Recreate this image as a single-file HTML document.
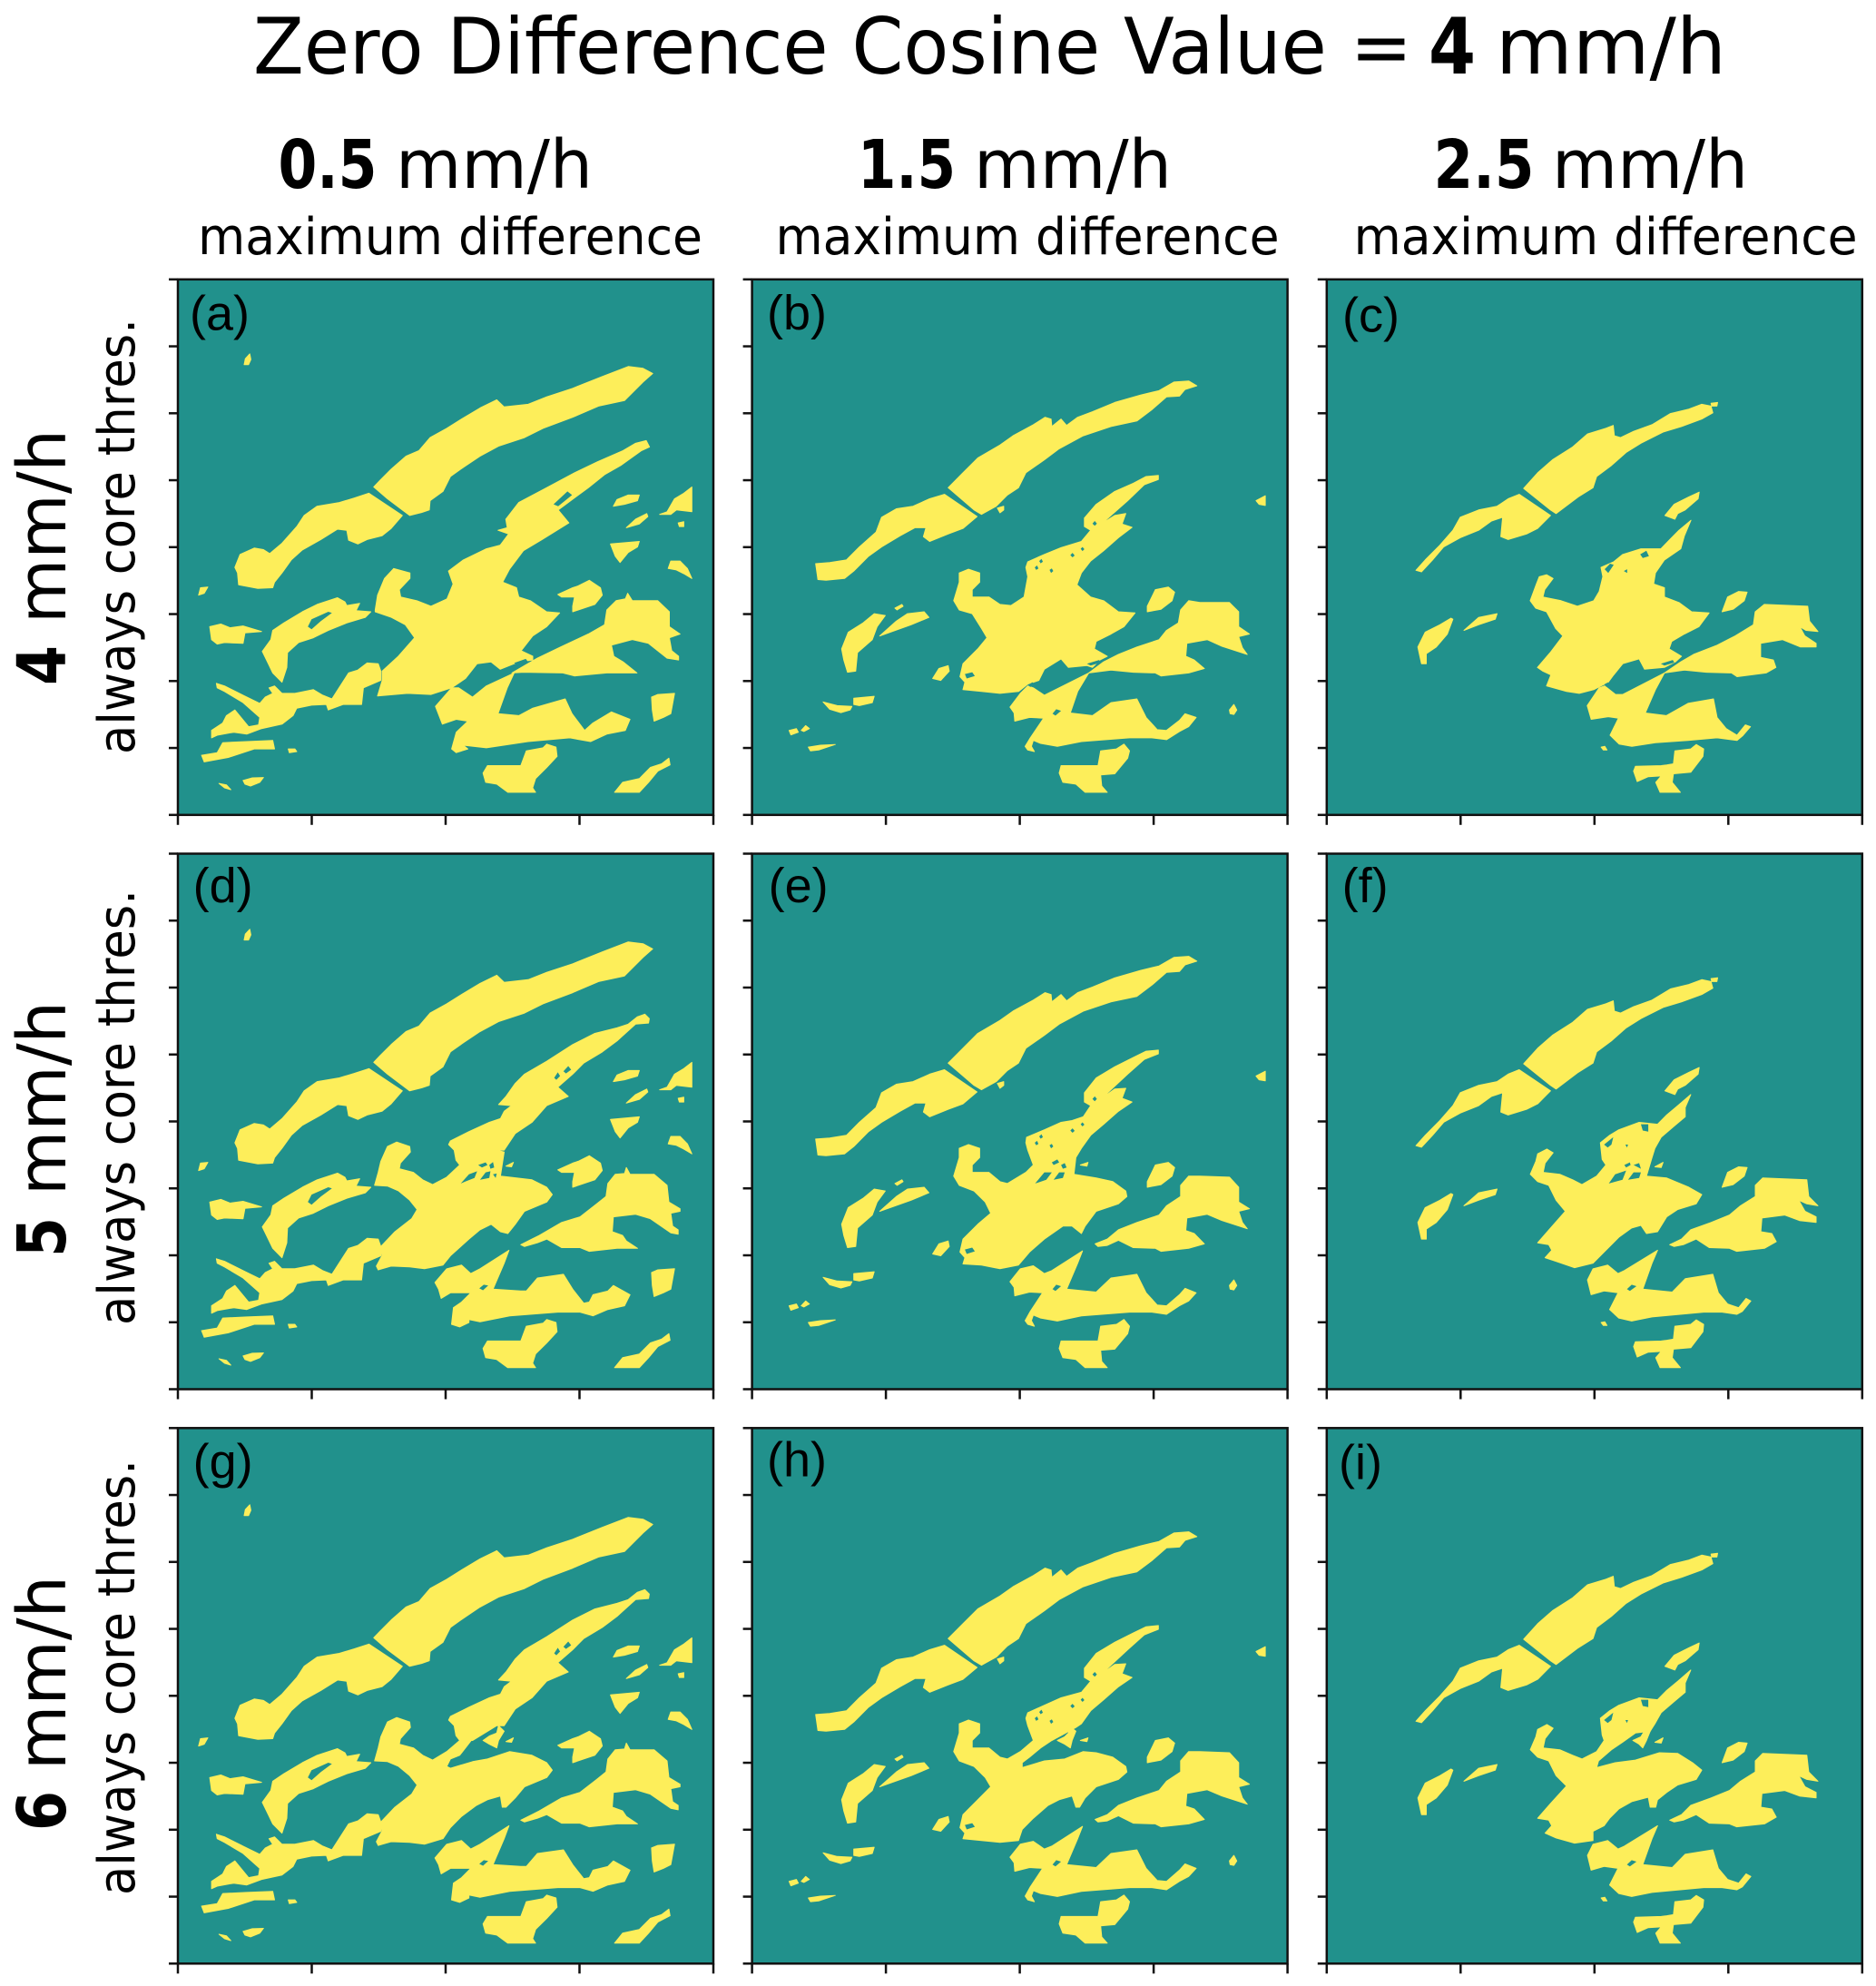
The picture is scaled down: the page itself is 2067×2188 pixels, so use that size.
<!DOCTYPE html>
<html lang="en">
<head>
<meta charset="utf-8">
<title>Zero Difference Cosine Value = 4 mm/h</title>
<style>
html,body{margin:0;padding:0;background:#fff;}
svg{display:block;}
.t{font-family:"DejaVu Sans","Liberation Sans",sans-serif;fill:#000;}
.b{font-weight:bold;}
.p{font-family:"Liberation Sans",sans-serif;font-size:54px;fill:#000;}
</style>
</head>
<body>
<svg id="chart" xmlns="http://www.w3.org/2000/svg" width="2067" height="2188" viewBox="0 0 2067 2188">
<rect x="0" y="0" width="2067" height="2188" fill="#ffffff"/>
<g>
<text class="t" x="279" y="81" font-size="86" textLength="1277" lengthAdjust="spacingAndGlyphs">Zero Difference Cosine Value =</text>
<text class="t b" x="1574" y="81" font-size="86" textLength="52" lengthAdjust="spacingAndGlyphs">4</text>
<text class="t" x="1648" y="81" font-size="86" textLength="254" lengthAdjust="spacingAndGlyphs">mm/h</text>
</g>
<g>
<text class="t b" x="306.5" y="207" font-size="74" textLength="109" lengthAdjust="spacingAndGlyphs">0.5</text>
<text class="t" x="436" y="207" font-size="74" textLength="217" lengthAdjust="spacingAndGlyphs">mm/h</text>
<text class="t" x="218" y="280" font-size="56" textLength="556" lengthAdjust="spacingAndGlyphs">maximum difference</text>
<text class="t b" x="945" y="207" font-size="74" textLength="108" lengthAdjust="spacingAndGlyphs">1.5</text>
<text class="t" x="1073" y="207" font-size="74" textLength="218" lengthAdjust="spacingAndGlyphs">mm/h</text>
<text class="t" x="854.5" y="280" font-size="56" textLength="555" lengthAdjust="spacingAndGlyphs">maximum difference</text>
<text class="t b" x="1579.5" y="207" font-size="74" textLength="111" lengthAdjust="spacingAndGlyphs">2.5</text>
<text class="t" x="1710" y="207" font-size="74" textLength="216" lengthAdjust="spacingAndGlyphs">mm/h</text>
<text class="t" x="1491.6" y="280" font-size="56" textLength="555" lengthAdjust="spacingAndGlyphs">maximum difference</text>
</g>
<g>
<text class="t b" transform="rotate(-90 72 755)" x="72" y="755" font-size="74" textLength="44" lengthAdjust="spacingAndGlyphs">4</text>
<text class="t" transform="rotate(-90 72 687)" x="72" y="687" font-size="74" textLength="214" lengthAdjust="spacingAndGlyphs">mm/h</text>
<text class="t" transform="rotate(-90 148 831)" x="148" y="831" font-size="56" textLength="480" lengthAdjust="spacingAndGlyphs">always core thres.</text>
<text class="t b" transform="rotate(-90 72 1385)" x="72" y="1385" font-size="74" textLength="44" lengthAdjust="spacingAndGlyphs">5</text>
<text class="t" transform="rotate(-90 72 1317)" x="72" y="1317" font-size="74" textLength="214" lengthAdjust="spacingAndGlyphs">mm/h</text>
<text class="t" transform="rotate(-90 148 1460)" x="148" y="1460" font-size="56" textLength="480" lengthAdjust="spacingAndGlyphs">always core thres.</text>
<text class="t b" transform="rotate(-90 72 2017)" x="72" y="2017" font-size="74" textLength="44" lengthAdjust="spacingAndGlyphs">6</text>
<text class="t" transform="rotate(-90 72 1950)" x="72" y="1950" font-size="74" textLength="214" lengthAdjust="spacingAndGlyphs">mm/h</text>
<text class="t" transform="rotate(-90 148 2088)" x="148" y="2088" font-size="56" textLength="480" lengthAdjust="spacingAndGlyphs">always core thres.</text>
</g>
<g id="panels"></g>
</svg>
<script>
/* Mask outlines, in each column's grid units. */
const col1Common = [
[[243,298],[246,282],[258,269],[261,284],[255,298]],
[[593,628],[610,610],[640,580],[680,545],[715,530],[745,495],[790,470],[830,445],[880,415],[925,393],[945,412],[1010,405],[1060,385],[1130,362],[1210,330],[1280,303],[1320,308],[1346,322],[1320,345],[1270,395],[1200,410],[1130,440],[1050,470],[1000,495],[930,518],[880,545],[835,575],[800,600],[780,640],[745,665],[743,690],[722,697],[690,705],[670,690],[630,660]],
[[580,645],[670,705],[640,740],[615,760],[575,770],[550,782],[525,772],[520,745],[495,742],[450,770],[400,798],[370,825],[345,860],[325,885],[320,900],[280,902],[228,892],[225,860],[218,845],[232,810],[270,793],[295,797],[312,808],[345,780],[385,735],[405,705],[440,680],[500,670],[540,658]],
[[1240,680],[1250,662],[1280,650],[1310,650],[1305,665],[1270,675]],
[[1275,738],[1300,715],[1330,700],[1333,708],[1310,728]],
[[1365,702],[1385,695],[1405,660],[1430,645],[1452,628],[1452,695],[1410,690],[1395,702]],
[[1415,725],[1430,722],[1430,735],[1418,735]],
[[1232,782],[1310,775],[1305,790],[1280,805],[1258,832],[1245,815]],
[[1388,848],[1395,828],[1420,828],[1440,848],[1452,875],[1430,862],[1410,852]],
[[1090,918],[1130,900],[1145,895],[1175,880],[1205,900],[1210,920],[1190,945],[1130,965],[1130,950],[1135,925],[1100,925]],
[[120,920],[125,900],[145,898],[135,915]],
[[150,1005],[180,998],[205,1008],[240,1003],[290,1018],[245,1022],[240,1050],[190,1048],[170,1052],[155,1040]],
[[292,1072],[315,1040],[320,1015],[350,995],[400,965],[440,945],[495,927],[515,938],[520,948],[555,942],[545,962],[585,965],[570,980],[520,995],[470,1015],[430,1035],[390,1048],[360,1075],[358,1115],[345,1155],[320,1130],[308,1105]],
[[168,1158],[190,1165],[240,1190],[285,1212],[300,1195],[320,1185],[310,1170],[325,1165],[345,1185],[380,1185],[430,1175],[455,1190],[480,1200],[525,1130],[550,1122],[575,1103],[605,1105],[612,1125],[612,1150],[565,1170],[560,1215],[510,1215],[470,1230],[465,1215],[425,1217],[385,1225],[375,1245],[345,1268],[290,1280],[250,1295],[215,1290],[170,1298],[155,1305],[155,1285],[185,1265],[195,1245],[218,1230],[255,1275],[282,1270],[285,1250],[240,1210],[190,1180],[170,1170]],
[[128,1352],[170,1345],[185,1318],[250,1315],[320,1312],[325,1335],[270,1335],[200,1358],[135,1370]],
[[362,1335],[380,1335],[385,1342],[365,1345]],
[[240,1420],[265,1413],[295,1412],[285,1425],[260,1435],[245,1430]],
[[175,1428],[195,1432],[207,1445],[190,1440]],
[[1343,1195],[1360,1188],[1405,1185],[1395,1240],[1375,1250],[1350,1260],[1345,1230]],
[[888,1400],[900,1380],[990,1380],[1005,1340],[1050,1332],[1060,1322],[1085,1330],[1088,1355],[1060,1385],[1030,1415],[1022,1440],[1030,1452],[955,1452],[925,1430],[895,1425]],
[[1243,1452],[1265,1425],[1310,1415],[1340,1385],[1370,1375],[1390,1360],[1393,1378],[1360,1395],[1335,1425],[1310,1452]]
];
const col1CommonHoles = [
[[415,1005],[425,985],[470,965],[480,968],[450,990],[425,1012]]
];
const col1Rows23 = [
[[990,1120],[1020,1105],[1040,1095],[1100,1060],[1150,1045],[1195,1010],[1220,990],[1225,955],[1245,930],[1270,928],[1275,912],[1285,930],[1350,930],[1385,960],[1390,1005],[1420,1023],[1420,1030],[1395,1035],[1400,1070],[1415,1080],[1415,1092],[1395,1088],[1340,1050],[1300,1038],[1240,1045],[1237,1085],[1265,1095],[1275,1110],[1305,1130],[1250,1130],[1175,1138],[1150,1128],[1100,1128],[1060,1105],[1035,1115],[1000,1125]],
[[758,1222],[790,1185],[830,1175],[855,1198],[880,1185],[958,1135],[945,1170],[915,1240],[990,1245],[1005,1245],[1035,1210],[1105,1200],[1130,1240],[1160,1278],[1175,1275],[1185,1255],[1225,1245],[1240,1230],[1285,1255],[1270,1285],[1225,1295],[1185,1312],[1150,1302],[1090,1302],[960,1312],[880,1328],[850,1322],[850,1330],[825,1342],[803,1335],[808,1290],[830,1275],[855,1250],[800,1250],[775,1265],[768,1240]],
[[825,905],[815,892],[810,865],[795,850],[800,840],[850,815],[905,790],[935,780],[945,760],[965,745],[930,742],[950,720],[975,685],[1000,660],[1060,625],[1130,580],[1190,550],[1250,535],[1280,525],[1305,505],[1325,498],[1337,510],[1335,522],[1300,525],[1250,570],[1210,600],[1160,630],[1130,660],[1090,695],[1118,720],[1060,745],[1020,790],[975,820],[945,865],[925,865],[860,905]],
[[950,908],[970,898],[965,910]]
];
const col1Rows23Holes = [
[[878,1238],[890,1228],[902,1230],[888,1243]],
[[1080,670],[1090,655],[1096,665],[1086,675]],
[[1105,652],[1118,638],[1126,648],[1112,658]]
];
const panelACoreRings = [
[[810,960],[815,920],[830,875],[850,848],[885,860],[885,875],[862,905],[865,925],[900,935],[930,950],[965,930],[978,890],[968,855],[1000,825],[1050,795],[1080,785],[1098,755],[1075,745],[1095,738],[1092,715],[1120,670],[1180,630],[1240,590],[1290,560],[1345,530],[1372,510],[1395,503],[1402,520],[1385,530],[1340,570],[1305,595],[1270,630],[1205,690],[1228,725],[1170,770],[1130,800],[1100,850],[1085,885],[1115,900],[1120,925],[1145,935],[1180,965],[1208,968],[1180,1005],[1150,1030],[1125,1070],[1150,1085],[1150,1095],[1120,1100],[1080,1120],[1060,1100],[1030,1105],[1005,1145],[975,1170],[930,1188],[880,1185],[815,1192],[825,1150],[825,1125],[860,1085],[895,1035],[875,1000],[845,980],[810,965]],
[[1105,1130],[1160,1090],[1210,1060],[1270,1025],[1305,1000],[1310,960],[1330,935],[1350,930],[1355,915],[1365,935],[1420,935],[1445,965],[1445,1005],[1468,1025],[1445,1035],[1450,1070],[1465,1085],[1465,1095],[1440,1090],[1400,1050],[1365,1040],[1320,1055],[1325,1085],[1345,1100],[1375,1130],[1310,1130],[1240,1138],[1215,1130],[1130,1128]],
[[940,1220],[975,1170],[990,1170],[1020,1195],[1050,1165],[1110,1130],[1095,1170],[1075,1240],[1120,1245],[1150,1225],[1220,1200],[1235,1240],[1262,1285],[1280,1265],[1320,1235],[1360,1255],[1350,1285],[1310,1295],[1275,1315],[1230,1305],[1140,1315],[1050,1332],[1000,1325],[1010,1335],[985,1345],[975,1335],[985,1290],[1010,1260],[985,1255],[955,1268]]
];
const panelACoreHoles = [
[[1195,675],[1225,640],[1235,650],[1205,680]],
[[1110,1103],[1135,1092],[1140,1100],[1118,1110]]
];
const panelDCoreRings = [
[[595,960],[605,925],[612,895],[630,855],[655,843],[690,855],[692,870],[665,900],[662,915],[700,925],[725,945],[752,958],[790,938],[825,905],[880,880],[925,865],[945,870],[935,935],[960,938],[1020,945],[1060,965],[1075,985],[1060,1005],[1000,1030],[975,1065],[955,1090],[935,1085],[910,1065],[880,1080],[850,1105],[800,1150],[780,1175],[730,1185],[690,1180],[640,1178],[605,1188],[600,1178],[615,1150],[612,1125],[650,1085],[695,1050],[710,1025],[690,1000],[660,975],[630,962]]
];
const panelDCoreHoles = [
[[828,955],[850,930],[872,922],[865,940],[840,950]],
[[880,945],[895,925],[908,922],[905,940]],
[[875,905],[895,898],[900,905],[885,912]],
[[905,905],[915,897],[918,912],[908,915]],
[[915,930],[925,928],[922,940]]
];
const panelGCoreRings = [
[[595,960],[605,925],[612,895],[630,855],[655,843],[690,855],[692,870],[665,900],[662,915],[700,925],[725,945],[752,958],[790,935],[825,905],[860,900],[825,945],[800,955],[790,975],[800,980],[860,962],[900,955],[960,935],[1020,945],[1060,965],[1075,985],[1060,1005],[1000,1030],[975,1060],[950,1085],[940,1085],[935,1055],[900,1065],[870,1080],[830,1110],[800,1140],[780,1170],[730,1185],[690,1180],[640,1178],[605,1188],[600,1178],[615,1150],[612,1125],[650,1085],[695,1050],[710,1025],[690,1000],[660,975],[630,962]],
[[888,905],[905,893],[925,885],[930,865],[945,880],[930,905],[925,925],[905,915]]
];

const col2Common = [
[[600,630],[640,590],[680,550],[740,515],[775,490],[830,460],[862,440],[878,445],[880,465],[905,445],[920,462],[950,440],[990,425],[1050,400],[1120,380],[1170,368],[1210,345],[1250,342],[1272,355],[1240,365],[1225,383],[1190,385],[1150,420],[1110,450],[1040,465],[965,490],[900,525],[860,555],[810,590],[790,630],[760,650],[730,680],[690,702],[670,690]],
[[733,685],[750,680],[750,690],[740,698]],
[[590,648],[678,708],[640,740],[600,755],[550,775],[533,762],[540,738],[510,738],[470,760],[420,790],[385,815],[345,855],[320,875],[270,880],[248,878],[242,835],[280,832],[325,825],[360,790],[405,750],[420,710],[460,687],[505,680],[550,660]],
[[1138,965],[1138,950],[1160,905],[1195,898],[1212,912],[1205,935],[1175,958]],
[[1432,665],[1457,652],[1457,678],[1440,675]],
[[900,1400],[905,1380],[1005,1380],[1012,1340],[1055,1335],[1075,1322],[1090,1340],[1085,1360],[1050,1402],[1012,1405],[1015,1435],[1030,1452],[970,1452],[945,1430],[910,1425]],
[[1360,1230],[1372,1215],[1380,1230],[1372,1242],[1362,1240]],
[[312,1065],[330,1020],[370,995],[400,970],[430,975],[408,1005],[395,1040],[355,1075],[350,1125],[328,1128],[318,1095]],
[[415,1030],[460,990],[490,970],[535,965],[548,980],[500,1000]],
[[456,955],[475,945],[478,950],[462,960]],
[[558,1145],[575,1118],[600,1110],[603,1125],[580,1150]],
[[262,1208],[300,1218],[340,1220],[335,1230],[310,1237],[280,1228]],
[[345,1198],[400,1193],[395,1210],[360,1218],[345,1215]],
[[170,1285],[190,1280],[195,1290],[175,1297]],
[[203,1285],[215,1272],[225,1280],[210,1288]],
[[222,1330],[255,1325],[295,1323],[250,1338],[228,1340]]
];
const col2CommonHoles = [
[[645,1133],[665,1128],[672,1138],[650,1145]],
[[882,1240],[892,1228],[905,1232],[890,1245]],
[[846,828],[852,822],[856,830],[850,834]],
[[834,845],[840,840],[844,848],[838,852]],
[[874,852],[880,848],[884,855],[878,860]],
[[930,812],[936,806],[942,813],[936,818]],
[[958,795],[963,790],[968,796],[963,801]],
[[990,727],[996,720],[1002,727],[996,733]]
];
const col2Rows23 = [
[[997,1118],[1030,1105],[1060,1080],[1110,1060],[1170,1040],[1190,1015],[1228,990],[1228,960],[1250,935],[1280,935],[1360,938],[1385,965],[1385,1005],[1414,1023],[1385,1030],[1395,1060],[1408,1077],[1340,1055],[1300,1038],[1245,1048],[1242,1082],[1265,1090],[1292,1118],[1250,1130],[1175,1138],[1160,1130],[1100,1128],[1060,1108],[1030,1122],[1005,1125]],
[[767,1220],[795,1185],[830,1177],[860,1198],[880,1190],[963,1137],[950,1170],[920,1240],[1000,1248],[1040,1210],[1110,1200],[1135,1250],[1165,1283],[1190,1285],[1225,1255],[1240,1238],[1270,1250],[1250,1272],[1225,1285],[1190,1308],[1150,1302],[1090,1302],[960,1312],[895,1326],[850,1318],[830,1310],[825,1325],[833,1340],[815,1335],[808,1325],[822,1300],[855,1250],[820,1248],[780,1258],[778,1235]],
[[957,905],[978,898],[975,908]]
];
const panelBCoreRings = [
[[810,845],[815,830],[860,810],[905,792],[960,775],[985,745],[968,735],[968,712],[1000,675],[1050,640],[1100,618],[1135,600],[1168,597],[1168,608],[1130,622],[1085,665],[1015,727],[1050,705],[1080,700],[1070,728],[1097,737],[1060,765],[1020,800],[985,828],[960,860],[948,892],[985,925],[1020,935],[1060,965],[1105,968],[1075,1005],[1040,1025],[1000,1045],[995,1065],[1030,1085],[1010,1095],[990,1115],[975,1110],[925,1115],[905,1092],[860,1120],[845,1150],[815,1160],[790,1180],[740,1185],[690,1180],[640,1175],[645,1155],[632,1140],[640,1105],[680,1065],[705,1035],[690,1010],[665,970],[630,960],[615,935],[630,885],[630,860],[655,850],[685,860],[685,885],[665,905],[665,925],[710,925],[740,945],[770,948],[805,925],[815,870]],
[[980,1130],[1020,1100],[1060,1080],[1110,1060],[1170,1040],[1190,1015],[1222,995],[1228,960],[1250,935],[1280,940],[1360,940],[1385,965],[1385,1005],[1414,1025],[1385,1032],[1395,1062],[1408,1080],[1340,1058],[1300,1040],[1245,1050],[1242,1085],[1265,1095],[1292,1118],[1250,1130],[1175,1138],[1160,1130],[1100,1128],[1040,1122]],
[[767,1222],[795,1185],[815,1165],[830,1170],[860,1190],[880,1180],[980,1130],[950,1180],[930,1238],[990,1245],[1040,1210],[1110,1200],[1135,1250],[1165,1283],[1190,1285],[1225,1258],[1240,1240],[1270,1250],[1250,1275],[1225,1288],[1190,1310],[1150,1305],[1090,1305],[960,1315],[895,1328],[850,1320],[830,1312],[825,1328],[833,1342],[815,1338],[808,1328],[822,1305],[858,1252],[820,1250],[780,1260],[778,1238]]
];
const panelBCoreHoles = [
[[975,1105],[1008,1095],[1012,1102],[985,1110]],
[[815,1162],[828,1155],[832,1162],[822,1168]]
];
const panelECoreRings = [
[[810,845],[812,830],[860,810],[905,790],[935,785],[965,775],[985,745],[968,735],[968,710],[1000,670],[1050,640],[1100,615],[1135,598],[1168,595],[1168,605],[1130,620],[1085,660],[1015,725],[1050,700],[1080,698],[1070,725],[1097,735],[1060,760],[1020,795],[985,825],[960,860],[945,885],[940,930],[1000,940],[1045,950],[1080,975],[1083,990],[1060,1010],[1000,1030],[970,1070],[960,1090],[935,1070],[910,1070],[860,1105],[820,1140],[790,1175],[740,1185],[690,1175],[640,1172],[645,1155],[632,1140],[640,1105],[680,1065],[715,1035],[700,1005],[670,975],[630,960],[615,935],[630,885],[630,860],[655,850],[685,860],[685,885],[665,905],[665,925],[710,925],[740,950],[760,955],[810,925],[830,905],[815,865]]
];
const panelECoreHoles = [
[[835,955],[860,925],[880,925],[865,945]],
[[885,945],[900,925],[915,925],[910,940]],
[[905,905],[915,900],[920,912],[910,915]],
[[880,898],[895,890],[900,898],[885,905]]
];
const panelHCoreRings = [
[[810,845],[815,830],[860,810],[905,790],[960,775],[985,745],[968,735],[968,710],[1000,670],[1050,640],[1100,615],[1135,598],[1168,595],[1168,605],[1130,620],[1085,660],[1015,725],[1050,700],[1080,698],[1070,725],[1097,735],[1060,760],[1020,795],[985,825],[960,860],[945,870],[880,905],[850,925],[820,950],[800,965],[800,978],[860,960],[915,955],[965,935],[1000,938],[1045,950],[1080,975],[1083,990],[1060,1010],[1000,1030],[970,1060],[955,1085],[945,1085],[935,1055],[900,1065],[870,1080],[830,1115],[800,1145],[790,1175],[740,1180],[690,1175],[640,1170],[645,1155],[632,1140],[640,1105],[680,1065],[715,1030],[700,1005],[670,975],[630,960],[615,935],[630,885],[630,860],[655,850],[685,860],[685,885],[665,905],[665,925],[710,925],[740,950],[760,955],[795,935],[830,905],[815,865]],
[[895,905],[915,895],[925,885],[930,868],[945,880],[935,905],[930,925],[915,915]]
];

const col3Common = [
[[612,632],[650,590],[690,555],[745,520],[785,485],[835,470],[855,462],[858,490],[875,495],[910,478],[960,460],[1010,430],[1060,418],[1095,405],[1120,410],[1125,428],[1095,445],[1040,465],[990,480],[930,510],[890,535],[850,570],[810,600],[800,630],[760,655],[700,700],[685,690]],
[[1120,402],[1138,400],[1136,410],[1122,410]],
[[600,648],[685,705],[650,740],[620,755],[570,770],[550,762],[555,710],[525,720],[490,745],[440,765],[395,790],[365,825],[335,857],[320,853],[345,825],[385,785],[420,745],[440,710],[490,690],[540,680],[570,660]],
[[995,705],[1020,675],[1060,655],[1088,642],[1085,660],[1050,690],[1030,700],[1022,715]],
[[1150,965],[1165,925],[1195,910],[1218,912],[1210,935],[1180,958]],
[[822,1330],[832,1328],[838,1338],[828,1338]],
[[910,1395],[915,1382],[985,1380],[1000,1378],[1018,1375],[1022,1340],[1065,1335],[1080,1323],[1100,1335],[1098,1355],[1065,1398],[1018,1402],[1015,1425],[1037,1452],[982,1452],[970,1425],[985,1408],[950,1410],[920,1423]],
[[325,1060],[345,1020],[385,1000],[415,982],[420,985],[405,1025],[375,1060],[348,1078],[348,1105],[335,1105]],
[[450,1015],[490,980],[540,970],[535,985],[490,1000]]
];
const col3Rows23 = [
[[1008,1120],[1040,1105],[1065,1080],[1120,1060],[1170,1040],[1200,1015],[1240,990],[1240,960],[1260,940],[1380,945],[1385,990],[1410,1015],[1380,1010],[1358,1000],[1375,1030],[1405,1045],[1405,1060],[1360,1055],[1320,1040],[1258,1048],[1255,1085],[1285,1090],[1297,1112],[1265,1130],[1190,1138],[1170,1130],[1115,1128],[1080,1105],[1045,1120],[1020,1125]],
[[785,1215],[800,1185],[840,1175],[868,1198],[885,1190],[975,1135],[960,1170],[935,1240],[1015,1248],[1050,1212],[1125,1200],[1140,1250],[1165,1280],[1195,1290],[1215,1265],[1228,1272],[1205,1300],[1190,1308],[1150,1302],[1100,1302],[960,1315],[905,1326],[870,1318],[845,1295],[868,1250],[830,1245],[795,1255]],
[[968,910],[990,898],[985,912]]
];
const col3Rows23Holes = [
[[892,1240],[905,1228],[918,1232],[900,1245]],
[[930,795],[950,795],[950,815],[935,812]],
[[830,850],[855,830],[850,850],[840,858]],
[[888,850],[895,850],[892,858]]
];
const panelCCoreRings = [
[[615,935],[632,890],[640,870],[660,865],[678,875],[655,905],[650,925],[700,935],[745,950],[790,935],[805,910],[815,870],[810,845],[845,830],[870,810],[920,795],[975,795],[1000,770],[1025,745],[1058,718],[1040,760],[1030,795],[985,825],[960,860],[955,890],[985,900],[985,925],[1025,940],[1060,965],[1108,968],[1080,1005],[1040,1025],[1005,1045],[998,1065],[1032,1085],[1015,1100],[985,1115],[930,1120],[915,1092],[870,1105],[845,1135],[830,1155],[790,1175],[750,1185],[715,1180],[660,1165],[672,1135],[650,1125],[635,1115],[670,1075],[705,1030],[685,1010],[660,965],[630,955]],
[[985,1130],[1030,1100],[1065,1080],[1130,1055],[1180,1030],[1230,1000],[1235,965],[1260,945],[1380,950],[1385,990],[1408,1018],[1375,1015],[1358,1005],[1372,1030],[1403,1050],[1403,1060],[1360,1060],[1310,1040],[1250,1050],[1250,1088],[1285,1095],[1292,1115],[1265,1130],[1185,1140],[1170,1130],[1100,1128],[1040,1122]],
[[772,1218],[805,1170],[820,1165],[850,1188],[870,1188],[985,1130],[960,1175],[932,1238],[990,1245],[1050,1212],[1120,1200],[1130,1250],[1155,1280],[1185,1298],[1208,1270],[1222,1275],[1200,1300],[1185,1312],[1130,1305],[1050,1312],[960,1318],[895,1328],[860,1322],[835,1298],[858,1252],[830,1248],[783,1255]]
];
const panelCCoreHoles = [
[[820,850],[835,835],[845,838],[830,860]],
[[918,810],[935,800],[942,815],[925,820]],
[[873,855],[882,850],[882,860]],
[[820,1160],[830,1155],[825,1168]],
[[975,1105],[1008,1095],[1012,1102],[985,1110]]
];
const panelFCoreRings = [
[[630,930],[645,895],[650,875],[675,862],[692,872],[670,900],[665,925],[710,930],[745,945],[770,958],[810,935],[835,905],[825,890],[820,845],[845,825],[870,810],[925,790],[975,795],[1000,770],[1030,745],[1065,715],[1050,750],[1050,775],[1020,800],[985,830],[968,860],[960,885],[945,935],[1000,940],[1060,965],[1095,985],[1080,1010],[1030,1025],[1000,1045],[975,1085],[945,1090],[930,1068],[905,1075],[870,1100],[830,1140],[800,1170],[750,1182],[700,1165],[670,1155],[688,1135],[680,1120],[650,1115],[685,1075],[725,1030],[700,1000],[680,960],[650,950]]
];
const panelFCoreHoles = [
[[843,955],[860,930],[890,920],[880,945]],
[[895,945],[910,925],[930,925],[925,940]],
[[910,905],[925,900],[930,915]],
[[885,905],[900,898],[902,905],[890,912]]
];
const panelICoreRings = [
[[630,930],[645,895],[650,875],[675,862],[692,872],[670,900],[665,925],[710,930],[745,945],[770,955],[810,935],[830,905],[825,890],[820,845],[845,825],[870,810],[925,790],[975,795],[1000,770],[1030,745],[1065,715],[1050,750],[1050,775],[1020,800],[985,830],[968,860],[955,880],[915,885],[880,910],[850,930],[815,960],[810,978],[860,965],[915,958],[980,938],[1030,940],[1070,965],[1095,985],[1080,1010],[1030,1025],[1000,1045],[975,1065],[970,1085],[955,1085],[950,1058],[905,1070],[870,1090],[845,1115],[830,1135],[800,1150],[800,1175],[750,1182],[700,1168],[670,1155],[688,1135],[680,1120],[650,1115],[685,1075],[728,1028],[700,1000],[680,960],[650,950]],
[[908,905],[930,895],[945,870],[955,880],[945,905],[935,925],[925,915]]
];

/* Grid extents of each panel in the units the outlines were read in. */
const columnGrids = [[64,1510],[70,1517],[78,1530]];
const rowGrids = [[68,1513],[65,1510],[62,1507]];
const panelAGrid = [384,1540];
const panelCGrid = [54,1530];

const panelLetters = ["(a)","(b)","(c)","(d)","(e)","(f)","(g)","(h)","(i)"];
const xTickValues = [0,0.25,0.5,0.75,1];
const yTickValues = [0,0.125,0.25,0.375,0.5,0.625,0.75,0.875,1];

const panelLayers = [
  [{r:col1Common,h:col1CommonHoles},{r:panelACoreRings,h:panelACoreHoles,g:panelAGrid}],
  [{r:col2Common,h:col2CommonHoles},{r:panelBCoreRings,h:panelBCoreHoles}],
  [{r:col3Common,h:[]},{r:panelCCoreRings,h:panelCCoreHoles,g:panelCGrid}],
  [{r:col1Common,h:col1CommonHoles},{r:col1Rows23,h:col1Rows23Holes},{r:panelDCoreRings,h:panelDCoreHoles}],
  [{r:col2Common,h:col2CommonHoles},{r:col2Rows23,h:[]},{r:panelECoreRings,h:panelECoreHoles}],
  [{r:col3Common,h:[]},{r:col3Rows23,h:col3Rows23Holes},{r:panelFCoreRings,h:panelFCoreHoles}],
  [{r:col1Common,h:col1CommonHoles},{r:col1Rows23,h:col1Rows23Holes},{r:panelGCoreRings,h:[]}],
  [{r:col2Common,h:col2CommonHoles},{r:col2Rows23,h:[]},{r:panelHCoreRings,h:[]}],
  [{r:col3Common,h:[]},{r:col3Rows23,h:col3Rows23Holes},{r:panelICoreRings,h:[]}]
];

(function(){
  var NS = "http://www.w3.org/2000/svg";
  var root = document.getElementById("panels");
  var TEAL = "#21918c", YELLOW = "#fdee5a", INK = "#111111";
  var lefts = [196, 828.6, 1461.8];
  var tops = [307.8, 940.5, 1573.3];
  var SIZE = 590;
  var letterX = [[209,845,1479],[212.6,846.6,1478.6],[212.6,845,1475]];
  var letterY = [[363.5,363,365.5],[994,994,994],[1628.5,1626.5,1629.5]];

  function scale(v, domain, start){
    return start + (v - domain[0]) / (domain[1] - domain[0]) * SIZE;
  }
  function ringPath(ring, gx, gy, left, top){
    var d = "";
    for (var i = 0; i < ring.length; i++){
      d += (i ? "L" : "M") + scale(ring[i][0], gx, left).toFixed(1) + " " + scale(ring[i][1], gy, top).toFixed(1);
    }
    return d + "Z";
  }
  function addTick(g, x1, y1, x2, y2){
    var t = document.createElementNS(NS, "line");
    
    
    t.setAttribute("x1", x1); t.setAttribute("y1", y1);
    t.setAttribute("x2", x2); t.setAttribute("y2", y2);
    t.setAttribute("stroke", INK);
    t.setAttribute("stroke-width", "2.5");
    g.appendChild(t);
  }

  panelLayers.forEach(function(layers, idx){
    var row = Math.floor(idx / 3), col = idx % 3;
    var left = lefts[col], top = tops[row];
    var g = document.createElementNS(NS, "g");
    
    
    root.appendChild(g);

    var bg = document.createElementNS(NS, "rect");
    
    
    bg.setAttribute("x", left); bg.setAttribute("y", top);
    bg.setAttribute("width", SIZE); bg.setAttribute("height", SIZE);
    bg.setAttribute("fill", TEAL);
    g.appendChild(bg);

    var gy = rowGrids[row];
    layers.forEach(function(layer){
      var gx = layer.g || columnGrids[col];
      layer.r.forEach(function(ring){
        var p = document.createElementNS(NS, "path");
        
        
        p.setAttribute("d", ringPath(ring, gx, gy, left, top));
        p.setAttribute("fill", YELLOW);
        p.setAttribute("stroke", YELLOW);
        p.setAttribute("stroke-width", "1");
        p.setAttribute("stroke-linejoin", "round");
        g.appendChild(p);
      });
    });
    layers.forEach(function(layer){
      var gx = layer.g || columnGrids[col];
      layer.h.forEach(function(ring){
        var p = document.createElementNS(NS, "path");
        
        
        p.setAttribute("d", ringPath(ring, gx, gy, left, top));
        p.setAttribute("fill", TEAL);
        g.appendChild(p);
      });
    });

    var frame = document.createElementNS(NS, "rect");
    
    
    frame.setAttribute("x", left); frame.setAttribute("y", top);
    frame.setAttribute("width", SIZE); frame.setAttribute("height", SIZE);
    frame.setAttribute("fill", "none");
    frame.setAttribute("stroke", INK);
    frame.setAttribute("stroke-width", "2.5");
    g.appendChild(frame);

    xTickValues.forEach(function(v){
      var x = left + v * SIZE;
      addTick(g, x, top + SIZE, x, top + SIZE + 11);
    });
    yTickValues.forEach(function(v){
      var y = top + v * SIZE;
      addTick(g, left - 10, y, left, y);
    });

    var label = document.createElementNS(NS, "text");
    
    
    label.setAttribute("class", "p");
    label.setAttribute("x", letterX[row][col]);
    label.setAttribute("y", letterY[row][col]);
    label.textContent = panelLetters[idx];
    g.appendChild(label);
  });
})();
</script>
</body>
</html>
